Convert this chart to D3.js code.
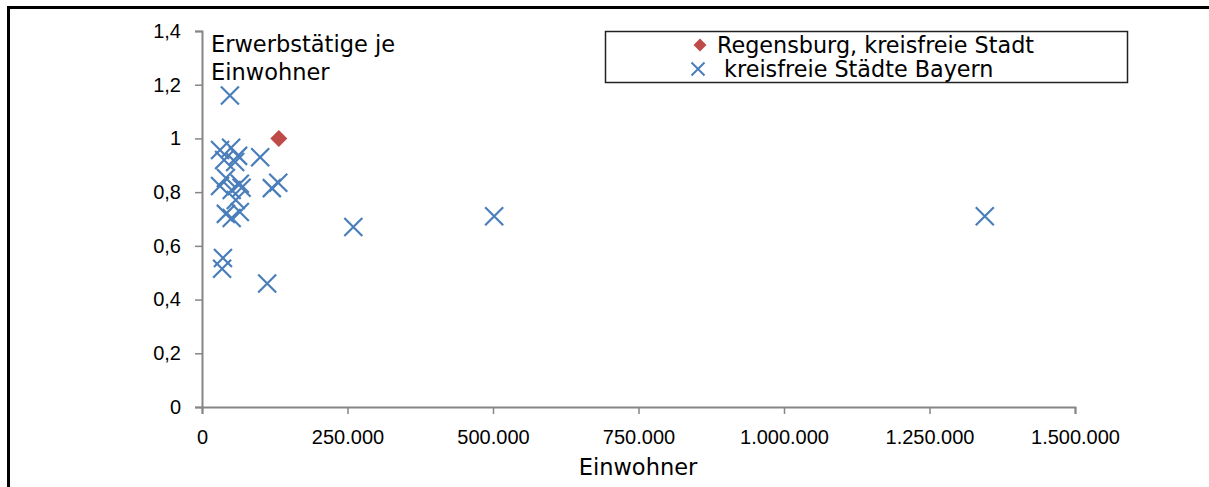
<!DOCTYPE html>
<meta charset="utf-8">
<script src="https://d3js.org/d3.v7.min.js"></script>
<style>
  body { margin: 0; background: #fff; }
  text { font-family: "DejaVu Sans", sans-serif; fill: #000; }
</style>
<div id="chart_area"></div>
<script>
    // kreisfreie Städte Bayern: Einwohner und Erwerbstätige je Einwohner
    let einwohner = [48000, 1345000, 502000, 260000, 131000, 120000, 112000, 100000,
                     31000, 50000, 62000, 38000, 57000, 41000, 65000, 31000, 51000, 58000, 68000, 41000, 51000, 65000,
                     36000, 34500];
    let erwerbstaetige = [1.16, 0.71, 0.71, 0.67, 0.835, 0.815, 0.46, 0.93,
                          0.957, 0.965, 0.935, 0.92, 0.912, 0.853, 0.831, 0.823, 0.808, 0.771, 0.816, 0.719, 0.704, 0.726,
                          0.555, 0.515];

    // Regensburg
    let regensburgEinwohner = [132000];
    let regensburgErwerbstaetige = [1.0];

    let xTicks = [0, 250000, 500000, 750000, 1000000, 1250000, 1500000];
    let yTicks = [0, 0.2, 0.4, 0.6, 0.8, 1.0, 1.2, 1.4];

    let width = 1209;
    let height = 487;

    let de = d3.formatLocale({decimal: ",", thousands: ".", grouping: [3], currency: ["", " €"]});

    let svg = d3.select("#chart_area")
        .append("svg")
            .attr("width", width)
            .attr("height", height);

    // outer frame (runs off the picture to the right and bottom)
    svg.append("rect")
        .attr("x", 8.5).attr("y", 7.5)
        .attr("width", 1400).attr("height", 700)
        .attr("fill", "none")
        .attr("stroke", "#000")
        .attr("stroke-width", 3);

    let x = d3.scaleLinear().domain([0, 1500000]).range([202, 1075]);
    let y = d3.scaleLinear().domain([0, 1.4]).range([407, 31]);

    let axisColor = "#868686";

    // y axis
    let yAxis = svg.append("g")
        .attr("transform", "translate(" + x(0) + ",0)")
        .call(d3.axisLeft(y).tickValues(yTicks).tickSize(7).tickPadding(14)
            .tickFormat(de.format(".1~f")));

    // x axis
    let xAxis = svg.append("g")
        .attr("transform", "translate(0," + y(0) + ")")
        .call(d3.axisBottom(x).tickValues(xTicks).tickSize(7).tickPadding(16)
            .tickFormat(de.format(",.0f")));

    [xAxis, yAxis].forEach(a => {
        a.select(".domain").attr("stroke", axisColor).attr("stroke-width", 2);
        a.selectAll(".tick line").attr("stroke", axisColor).attr("stroke-width", 1.5);
        a.selectAll(".tick text")
            .style("font-family", "'Liberation Sans', sans-serif")
            .style("font-size", "20px")
            .attr("fill", "#000");
    });

    // axis titles
    svg.append("text")
        .attr("x", 638).attr("y", 475)
        .attr("text-anchor", "middle")
        .style("font-size", "22.5px")
        .text("Einwohner");

    svg.append("text")
        .attr("x", 211).attr("y", 52)
        .style("font-size", "22.5px")
        .text("Erwerbstätige je");
    svg.append("text")
        .attr("x", 211).attr("y", 80)
        .style("font-size", "22.5px")
        .text("Einwohner");

    let blue = "#4a7ebb";
    let red = "#be4b48";

    let crossPath = s => "M" + (-s) + "," + (-s) + "L" + s + "," + s + "M" + (-s) + "," + s + "L" + s + "," + (-s);
    let diamondPath = s => "M0," + (-s) + "L" + s + ",0L0," + s + "L" + (-s) + ",0Z";

    // blue crosses
    svg.selectAll("crossMarks")
        .data(einwohner)
        .enter()
        .append("path")
            .attr("transform", (d, i) => "translate(" + x(d) + "," + y(erwerbstaetige[i]) + ")")
            .attr("d", crossPath(9))
            .attr("stroke", blue)
            .attr("stroke-width", 2.2)
            .attr("fill", "none");

    // Regensburg diamond
    svg.selectAll("diamondMarks")
        .data(regensburgEinwohner)
        .enter()
        .append("path")
            .attr("transform", (d, i) => "translate(" + x(d) + "," + y(regensburgErwerbstaetige[i]) + ")")
            .attr("d", diamondPath(8.5))
            .attr("fill", red);

    // legend
    let legend = svg.append("g");
    legend.append("rect")
        .attr("x", 605.5).attr("y", 31.5)
        .attr("width", 522).attr("height", 51)
        .attr("fill", "#fff")
        .attr("stroke", "#222")
        .attr("stroke-width", 1.5);

    legend.append("path")
        .attr("transform", "translate(700,45)")
        .attr("d", diamondPath(6.5))
        .attr("fill", red);
    legend.append("text")
        .attr("x", 717).attr("y", 53)
        .style("font-size", "22.3px")
        .text("Regensburg, kreisfreie Stadt");

    legend.append("path")
        .attr("transform", "translate(698,69)")
        .attr("d", crossPath(6.5))
        .attr("stroke", blue)
        .attr("stroke-width", 2)
        .attr("fill", "none");
    legend.append("text")
        .attr("x", 717).attr("y", 77)
        .style("font-size", "22.3px")
        .style("white-space", "pre")
        .text(" kreisfreie Städte Bayern");
</script>
